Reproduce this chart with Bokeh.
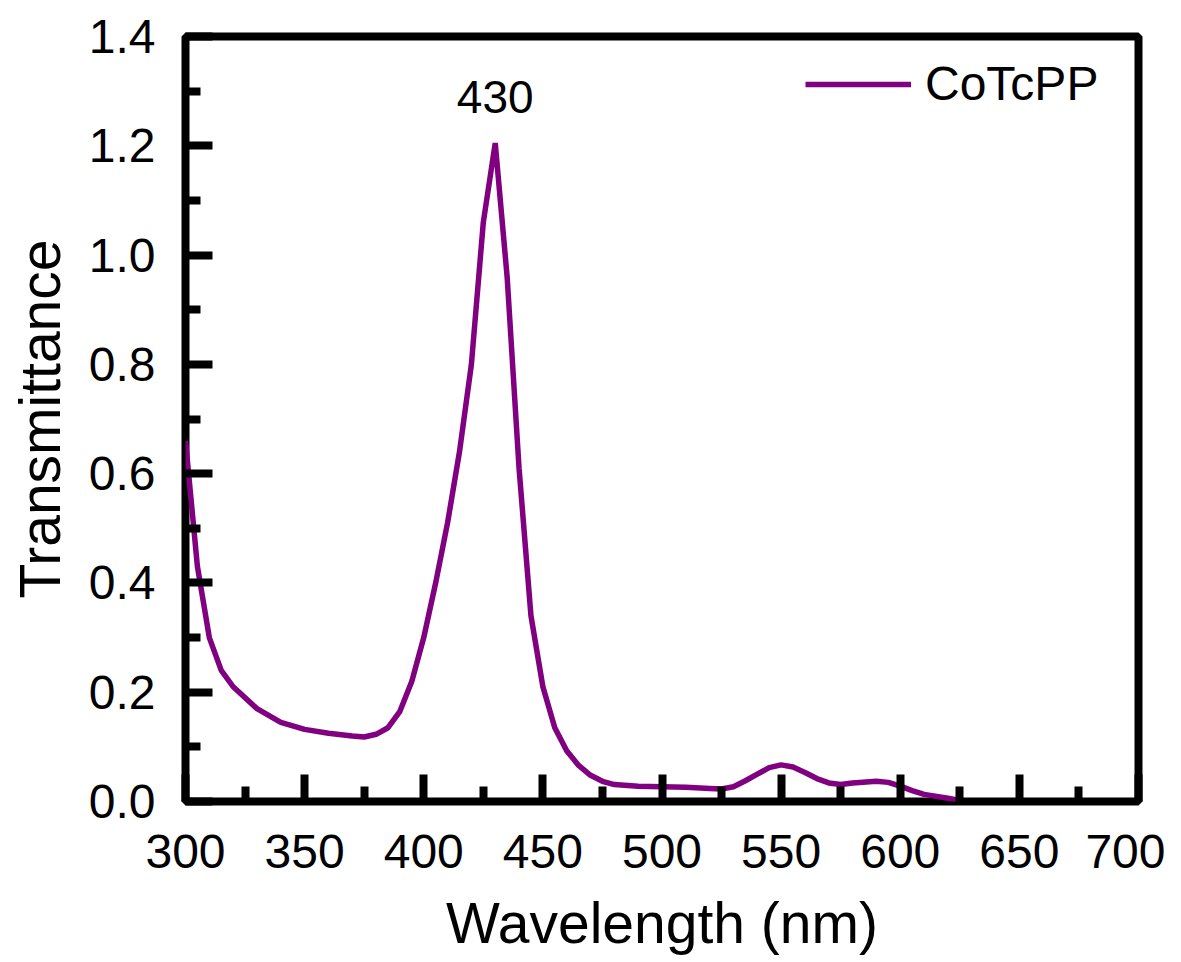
from bokeh.plotting import figure
from bokeh.models import Range1d, Label, FixedTicker, NumeralTickFormatter, Legend, LegendItem
from bokeh.embed import file_html
from bokeh.resources import INLINE

# Data
wavelength = [300, 305, 310, 315, 320, 330, 340, 350, 360, 370, 375, 380, 385, 390, 395,
              400, 405, 410, 415, 420, 425, 430, 435, 440, 445, 450, 455, 460, 465, 470,
              475, 480, 490, 500, 510, 520, 525, 530, 535, 540, 545, 550, 555, 560, 565,
              570, 575, 580, 590, 595, 600, 605, 610, 620, 625]
transmittance = [0.66, 0.43, 0.30, 0.24, 0.21, 0.17, 0.145, 0.132, 0.125, 0.12, 0.118, 0.123,
                 0.135, 0.165, 0.22, 0.30, 0.40, 0.51, 0.64, 0.80, 1.06, 1.205, 0.96, 0.61,
                 0.34, 0.21, 0.135, 0.093, 0.066, 0.048, 0.037, 0.031, 0.028, 0.027, 0.026,
                 0.024, 0.023, 0.027, 0.038, 0.05, 0.062, 0.067, 0.063, 0.053, 0.042, 0.034,
                 0.031, 0.034, 0.037, 0.035, 0.028, 0.02, 0.013, 0.006, 0.002]
x_major_ticks = [300, 350, 400, 450, 500, 550, 600, 650, 700]
x_minor_ticks = [325, 375, 425, 475, 525, 575, 625, 675]
y_major_ticks = [0.0, 0.2, 0.4, 0.6, 0.8, 1.0, 1.2, 1.4]
y_minor_ticks = [0.1, 0.3, 0.5, 0.7, 0.9, 1.1, 1.3]
series_name = "CoTcPP"
peak_label = "430"
peak_x = 430
x_label = "Wavelength (nm)"
y_label = "Transmittance"

FONT = "Liberation Sans"

p = figure(width=1165, height=958, output_backend="svg", toolbar_location=None,
           x_range=Range1d(300, 700), y_range=Range1d(0, 1.4),
           min_border_left=185, min_border_right=27, min_border_top=36, min_border_bottom=157)
p.background_fill_color = "white"
p.border_fill_color = "white"
p.grid.visible = False
p.outline_line_color = "black"
p.outline_line_width = 8

r = p.line(wavelength, transmittance, line_color="#800080", line_width=5.5)

for ax in (p.xaxis[0], p.yaxis[0]):
    ax.axis_line_color = None
    ax.major_tick_in = 27
    ax.major_tick_out = 0
    ax.minor_tick_in = 15
    ax.minor_tick_out = 0
    ax.major_tick_line_width = 8
    ax.minor_tick_line_width = 8
    ax.major_tick_line_color = "black"
    ax.minor_tick_line_color = "black"
    ax.major_label_text_font = FONT
    ax.major_label_text_font_size = "48px"
    ax.major_label_text_color = "black"
    ax.axis_label_text_font = FONT
    ax.axis_label_text_font_size = "57px"
    ax.axis_label_text_font_style = "normal"
    ax.axis_label_text_color = "black"

p.xaxis[0].ticker = FixedTicker(ticks=x_major_ticks, minor_ticks=x_minor_ticks)
p.yaxis[0].ticker = FixedTicker(ticks=y_major_ticks, minor_ticks=y_minor_ticks)
p.yaxis[0].formatter = NumeralTickFormatter(format="0.0")
p.xaxis[0].axis_label = x_label
p.yaxis[0].axis_label = y_label
p.xaxis[0].major_label_standoff = 33
p.yaxis[0].major_label_standoff = 30
p.xaxis[0].axis_label_standoff = 20
p.yaxis[0].axis_label_standoff = 14

p.add_layout(Label(x=peak_x, y=1.29, text=peak_label, text_align="center",
                   text_baseline="middle", text_font=FONT, text_font_size="46px",
                   text_color="black"))

legend = Legend(items=[LegendItem(label=series_name, renderers=[r])],
                location=(620, 690))
legend.glyph_width = 106
legend.glyph_height = 40
legend.label_text_font = FONT
legend.label_text_font_size = "48px"
legend.label_text_color = "black"
legend.label_standoff = 14
legend.padding = 0
legend.margin = 0
legend.border_line_color = None
legend.background_fill_alpha = 0
p.add_layout(legend)

open("out.html", "w").write(file_html(p, INLINE))
